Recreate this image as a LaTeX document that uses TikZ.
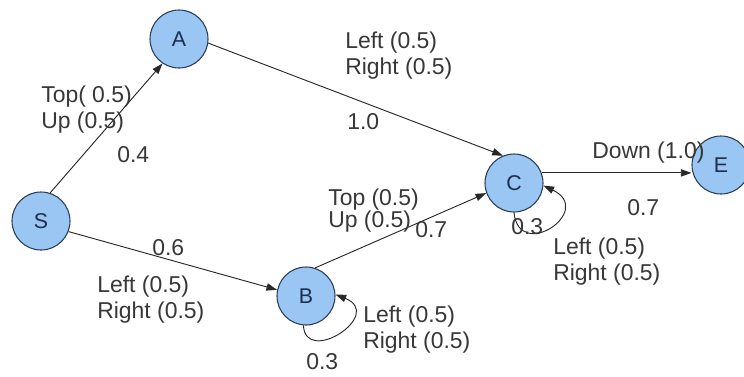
\documentclass[tikz,border=0pt]{standalone}
\usepackage{fontspec}
\setmainfont{Liberation Sans}
\usetikzlibrary{arrows.meta}
\definecolor{nodefill}{RGB}{153,198,242}
\definecolor{nodeline}{RGB}{45,60,85}
\definecolor{edgecol}{RGB}{40,40,40}
\definecolor{txtcol}{RGB}{55,55,55}
\definecolor{lettercol}{RGB}{30,45,75}
\begin{document}
\begin{tikzpicture}[x=0.75pt,y=-0.75pt,
  state/.style={circle,draw=nodeline,fill=nodefill,line width=0.8pt,minimum size=43.5pt,inner sep=0pt,
    font=\fontsize{16}{18}\selectfont,text=lettercol},
  arr/.style={draw=edgecol,line width=0.7pt,-{Triangle[length=8pt,width=5.5pt]}},
  lbl/.style={anchor=west,inner sep=0pt,align=left,text=txtcol,font=\fontsize{17.2}{19.5}\selectfont},
  lbltight/.style={lbl,font=\fontsize{17.2}{16.5}\selectfont}]
\useasboundingbox (0,0) rectangle (744,376);

% states
\node[state] (S) at (41,221) {S};
\node[state] (A) at (179,39) {A};
\node[state] (B) at (306,296) {B};
\node[state] (C) at (514,183) {C};
\node[state] (E) at (721,165) {E};

% transitions
\draw[arr] (S.72) -- (A.236);
\draw[arr] (A.-8) -- (C.112);
\draw[arr] (S.-21) -- (B.168);
\draw[arr] (B.72) -- (C.200);
\draw[arr] (C.20) -- (C.20 -| E.west);
\draw[arr] (B.-95) .. controls +(2,41) and +(50,20) .. (B.3);
\draw[arr] (C.-90) .. controls +(5,50) and +(52,25) .. (C.-5);

% labels
\node[lbl] (lSA) at (41,110) {Top( 0.5)\\Up (0.5)};
\node[lbl] (pSA) at (117,155) {0.4};
\node[lbl] (pSB) at (152,248) {0.6};
\node[lbl] (lSB) at (97,300) {Left (0.5)\\Right (0.5)};
\node[lbl] (lAC) at (345,56) {Left (0.5)\\Right (0.5)};
\node[lbl] (pAC) at (347,122) {1.0};
\node[lbltight] (lBC) at (328,211) {Top (0.5)\\Up (0.5)};
\node[lbl] (pBC) at (415,230) {0.7};
\node[lbl] (lBB) at (363,330) {Left (0.5)\\Right (0.5)};
\node[lbl] (pBB) at (306,362) {0.3};
\node[lbl] (lCE) at (592,153) {Down (1.0)};
\node[lbl] (pCE) at (627,208) {0.7};
\node[lbl] (pCC) at (511,227) {0.3};
\node[lbl] (lCC) at (553,262) {Left (0.5)\\Right (0.5)};
\end{tikzpicture}
\end{document}
